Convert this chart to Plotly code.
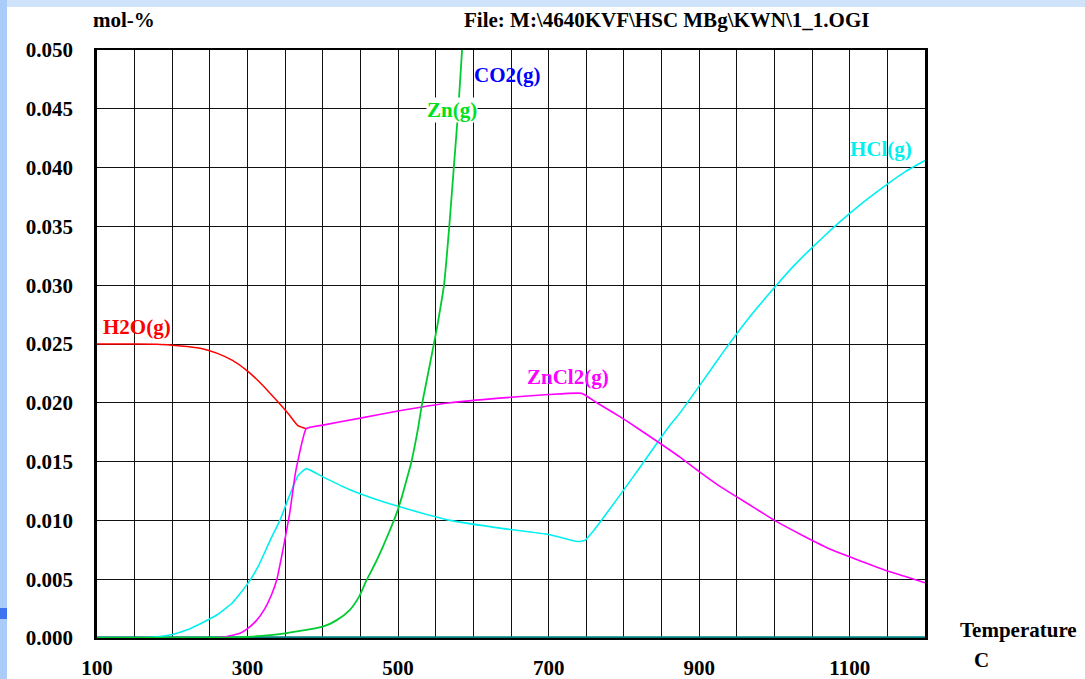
import plotly.graph_objects as go

# ---------------- data ----------------
h2o_T = [100, 150, 180, 200, 220, 240, 260, 280, 300, 320, 340, 355, 367, 378]
h2o_y = [0.0250, 0.0250, 0.02498, 0.0249, 0.02478, 0.0246, 0.0242, 0.0236, 0.0227, 0.0215, 0.0201, 0.0190,
         0.01805, 0.0178]

zncl2_T = [100, 200, 250, 270, 290, 300, 312, 323, 332, 339, 347, 356, 363, 367, 378, 400, 450, 500, 569, 635,
           700, 744, 764, 785, 805, 840, 874, 901, 925, 950, 975, 1000, 1038, 1076, 1100, 1125, 1150, 1175, 1200]
zncl2_y = [0.0, 0.0, 0.0, 0.0001, 0.0004, 0.0008, 0.0015, 0.0025, 0.0037, 0.0050, 0.0075, 0.0106, 0.0138,
           0.0151, 0.0178, 0.0181, 0.0187, 0.0193, 0.0200, 0.0204, 0.0207, 0.0208, 0.0200, 0.0192, 0.0184,
           0.0169, 0.0154, 0.0141, 0.0130, 0.0120, 0.0110, 0.0100, 0.0087, 0.0075, 0.0069, 0.0063, 0.0057,
           0.0052, 0.0047]

hcl_T = [100, 150, 160, 180, 200, 220, 240, 260, 280, 300, 315, 330, 343, 355, 367, 378, 400, 436, 470, 500,
         569, 640, 700, 738, 748, 758, 770, 785, 801, 820, 840, 860, 874, 901, 934, 967, 1000, 1025, 1050, 1075,
         1100, 1125, 1150, 1175, 1200]
hcl_y = [0.0, 0.0, 0.00002, 0.0001, 0.0003, 0.0007, 0.0013, 0.0020, 0.0030, 0.0046, 0.0062, 0.0083, 0.0100,
         0.0120, 0.0138, 0.0144, 0.0137, 0.0126, 0.0118, 0.0112, 0.0100, 0.0093, 0.0088, 0.0082, 0.0083,
         0.0090, 0.0100, 0.0113, 0.0127, 0.0144, 0.0162, 0.0180, 0.0191, 0.0215, 0.0245, 0.0273, 0.0298,
         0.0316, 0.0332, 0.0347, 0.0361, 0.0374, 0.0386, 0.0397, 0.0406]

zn_T = [100, 250, 300, 330, 350, 370, 400, 418, 436, 448, 458, 470, 480, 490, 498, 505, 511, 517, 522, 527,
        531, 538, 546, 552, 556, 561, 568, 574, 580, 585, 592]
zn_y = [0.0, 0.00002, 0.0001, 0.00025, 0.0004, 0.0006, 0.00096, 0.0015, 0.0024, 0.0035, 0.0049, 0.0064,
        0.0078, 0.0093, 0.0106, 0.0120, 0.0134, 0.0148, 0.0163, 0.0180, 0.0196, 0.0219, 0.0245, 0.0265,
        0.0280, 0.0300, 0.0350, 0.0400, 0.0450, 0.0500, 0.0560]

co2_T = [100, 1200]
co2_y = [0.0, 0.0]

x_ticks = [100, 300, 500, 700, 900, 1100]
y_ticks = [0.000, 0.005, 0.010, 0.015, 0.020, 0.025, 0.030, 0.035, 0.040, 0.045, 0.050]

FONT = "Liberation Serif"
FS = 21

fig = go.Figure()
fig.add_trace(go.Scatter(x=co2_T, y=co2_y, mode="lines", name="CO2(g)",
                         line=dict(color="#008080", width=3.5)))
fig.add_trace(go.Scatter(x=h2o_T, y=h2o_y, mode="lines", name="H2O(g)",
                         line=dict(color="#ff0000", width=1.5, shape="spline", smoothing=0.6)))
fig.add_trace(go.Scatter(x=hcl_T, y=hcl_y, mode="lines", name="HCl(g)",
                         line=dict(color="#00f0f0", width=1.6, shape="spline", smoothing=0.4)))
fig.add_trace(go.Scatter(x=zncl2_T, y=zncl2_y, mode="lines", name="ZnCl2(g)",
                         line=dict(color="#ff00ff", width=1.6, shape="spline", smoothing=0.4)))
fig.add_trace(go.Scatter(x=zn_T, y=zn_y, mode="lines", name="Zn(g)",
                         line=dict(color="#00cc30", width=1.8, shape="spline", smoothing=0.6)))

labels = [
    ("H2O(g)", 106.5, 0.02645, "#ff0000", None),
    ("CO2(g)", 600, 0.0479, "#0000ff", None),
    ("Zn(g)", 537, 0.0449, "#00e020", "white"),
    ("HCl(g)", 1099, 0.0416, "#00f0f0", None),
    ("ZnCl2(g)", 670, 0.0222, "#ff00ff", None),
]
for txt, x, y, col, bg in labels:
    fig.add_annotation(x=x, y=y, xref="x", yref="y", text="<b>%s</b>" % txt, showarrow=False,
                       xanchor="left", yanchor="middle", borderpad=0,
                       bgcolor=bg if bg else "rgba(0,0,0,0)",
                       font=dict(family=FONT, size=FS, color=col))


def px_x(p):
    return (p - 97) / 828


def px_y(p):
    return (638 - p) / 588


# page texts
page_texts = [
    ("<b>mol-%</b>", 91, 20, "left"),
    ("<b>File: M:\\4640KVF\\HSC MBg\\KWN\\1_1.OGI</b>", 666, 20, "center"),
    ("<b>Temperature</b>", 958, 630, "left"),
    ("<b>C</b>", 972, 660, "left"),
]
for txt, px, py, anc in page_texts:
    fig.add_annotation(x=px_x(px), y=px_y(py), xref="x domain", yref="y domain", text=txt,
                       showarrow=False, xanchor=anc, yanchor="middle",
                       font=dict(family=FONT, size=FS, color="black"))

# decorative page strips
fig.add_shape(type="rect", xref="x domain", yref="y domain", x0=px_x(0), x1=px_x(1085), y0=px_y(7), y1=px_y(0),
              fillcolor="#cfe3fb", line=dict(width=0), layer="below")
fig.add_shape(type="rect", xref="x domain", yref="y domain", x0=px_x(0), x1=px_x(7), y0=px_y(679), y1=px_y(0),
              fillcolor="#a9cdf8", line=dict(width=0), layer="below")
fig.add_shape(type="rect", xref="x domain", yref="y domain", x0=px_x(0), x1=px_x(7), y0=px_y(619), y1=px_y(608),
              fillcolor="#3e73f0", line=dict(width=0), layer="below")

fig.update_xaxes(range=[100, 1200], tickmode="array", tickvals=x_ticks,
                 ticktext=["<b>%d</b>" % v for v in x_ticks],
                 showgrid=True, gridcolor="#111", gridwidth=1,
                 minor=dict(dtick=50, tick0=100, showgrid=True, gridcolor="#111", gridwidth=1),
                 ticks="", ticklabelstandoff=10, automargin=False,
                 tickfont=dict(family=FONT, size=FS, color="black"),
                 showline=True, linecolor="black", linewidth=2, mirror=True, zeroline=False)
fig.update_yaxes(range=[0, 0.05], tickmode="array", tickvals=y_ticks,
                 ticktext=["<b>%.3f</b>" % v for v in y_ticks],
                 showgrid=True, gridcolor="#111", gridwidth=1,
                 ticks="", ticklabelstandoff=17, automargin=False,
                 tickfont=dict(family=FONT, size=FS, color="black"),
                 showline=True, linecolor="black", linewidth=2.5, mirror=True, zeroline=False)

fig.update_layout(width=1085, height=679, margin=dict(l=97, r=160, t=50, b=41, autoexpand=False),
                  plot_bgcolor="white", paper_bgcolor="white", showlegend=False,
                  font=dict(family=FONT, size=FS, color="black"))

fig.write_html("out.html")
